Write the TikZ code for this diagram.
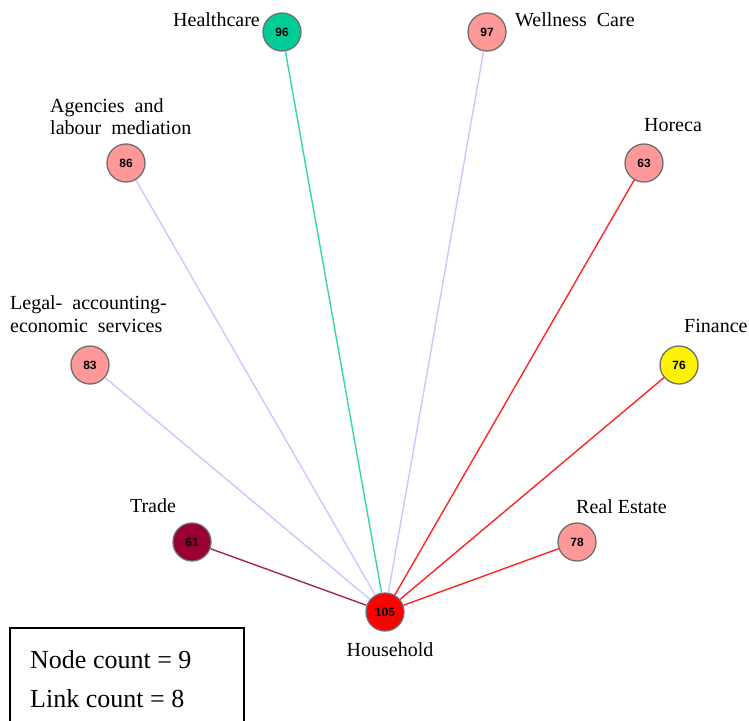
\documentclass[tikz,border=0pt]{standalone}
\usepackage{fontspec}
\setmainfont{Liberation Serif}
\newfontfamily\numfont{Liberation Sans}
\usepackage{tikz}
\usetikzlibrary{positioning}
\definecolor{teal node}{HTML}{00CC99}
\definecolor{teal link}{HTML}{33D6A6}
\definecolor{pink node}{HTML}{FF9999}
\definecolor{wine node}{HTML}{990033}
\definecolor{wine link}{HTML}{A3294F}
\definecolor{lavender link}{HTML}{C8C8FF}
\definecolor{red link}{HTML}{FF2424}
\definecolor{rim}{HTML}{6E6E6E}

\begin{document}
\begin{tikzpicture}[x=1pt, y=-1pt,
  main node/.style={circle, draw=rim, line width=1.3pt, minimum size=38pt, inner sep=0pt,
    font=\numfont\fontsize{12}{12}\selectfont\bfseries},
  sector label/.style={inner sep=0pt, font=\fontsize{20}{22}\selectfont, align=left},
  count label/.style={inner sep=0pt, font=\fontsize{26}{30}\selectfont},
  link/.style={line width=1.4pt}]

\useasboundingbox (0,0) rectangle (749,720);

\node[main node, fill=red] (household) at (385,612) {105};
\node[main node, fill=teal node] (health) at (282,32) {96};
\node[main node, fill=pink node] (wellness) at (487,32) {97};
\node[main node, fill=pink node] (agencies) at (126,163) {86};
\node[main node, fill=pink node] (horeca) at (644,163) {63};
\node[main node, fill=pink node] (legal) at (90,365) {83};
\node[main node, fill=yellow] (finance) at (679,365) {76};
\node[main node, fill=wine node] (trade) at (192,542) {61};
\node[main node, fill=pink node] (estate) at (577,542) {78};

\node[sector label, anchor=base] (householdL) at (390,656) {Household};
\node[sector label, anchor=base east] (healthL) at (260,27) {Healthcare};
\node[sector label, anchor=base west] (wellnessL) at (515,27) {Wellness\ \ Care};
\node[sector label, anchor=north west] (agenciesL) at (50,98) {Agencies\ \ and\\labour\ \ mediation};
\node[sector label, anchor=base] (horecaL) at (673,131) {Horeca};
\node[sector label, anchor=north west, font=\fontsize{20}{23}\selectfont] (legalL) at (10,295) {Legal-\ \ accounting-\\economic\ \ services};
\node[sector label, anchor=base west] (financeL) at (684,332) {Finance};
\node[sector label, anchor=base] (tradeL) at (153,512) {Trade};
\node[sector label, anchor=base west] (estateL) at (576,513) {Real Estate};

\draw[link, teal link] (household) -- (health);
\draw[link, lavender link] (household) -- (wellness);
\draw[link, lavender link] (household) -- (agencies);
\draw[link, lavender link] (household) -- (legal);
\draw[link, red link] (household) -- (horeca);
\draw[link, red link] (household) -- (finance);
\draw[link, red link] (household) -- (estate);
\draw[link, wine link] (household) -- (trade);

\node[draw, line width=1.5pt, anchor=north west, minimum width=234pt, minimum height=100pt] (countbox) at (9,627) {};
\node[count label, anchor=base west] (nodecount) at (30,668) {Node count = 9};
\node[count label, anchor=base west] (linkcount) at (30,707) {Link count = 8};

\end{tikzpicture}
\end{document}
